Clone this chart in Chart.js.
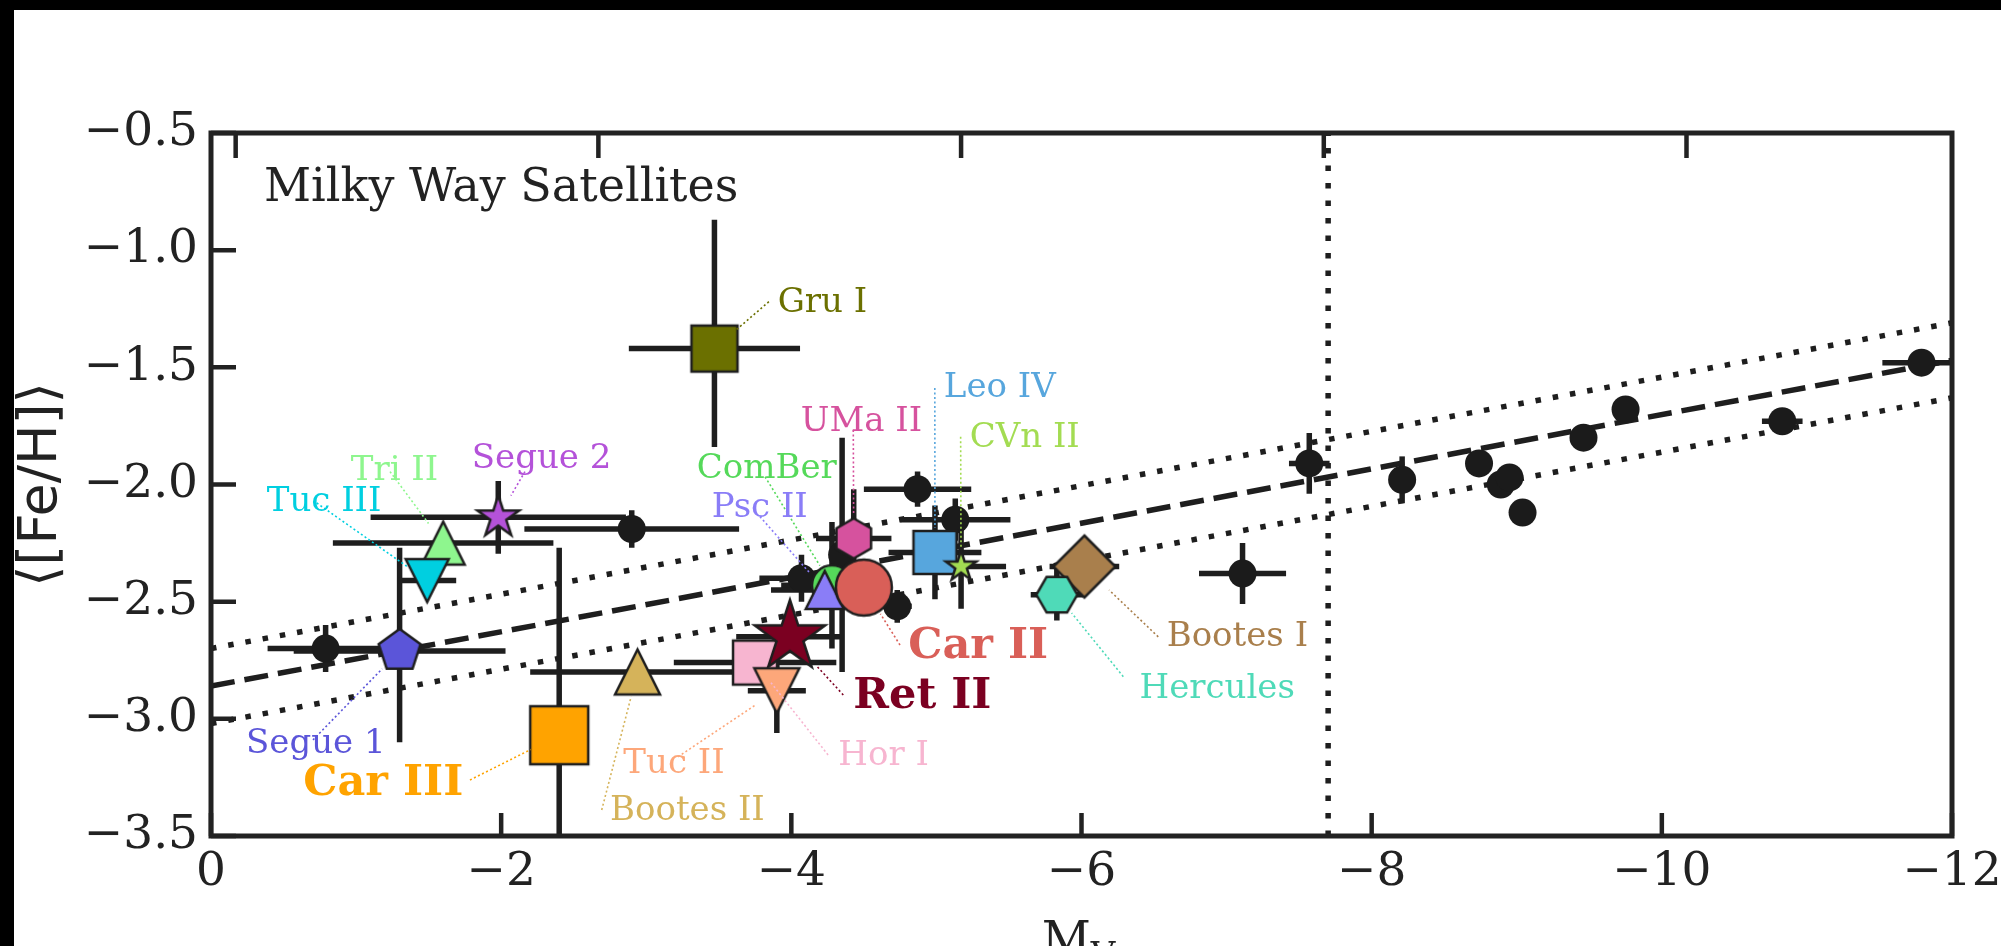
<!DOCTYPE html>
<html>
<head>
<meta charset="utf-8">
<title>Milky Way Satellites</title>
<script src="https://cdn.jsdelivr.net/npm/chart.js@4.4.1/dist/chart.umd.min.js"></script>
<style>
  html, body { margin: 0; padding: 0; background: #000; width: 2001px; height: 946px; overflow: hidden; }
  #wrap { position: absolute; left: 14px; top: 10px; width: 1987px; height: 936px; background: #fff; }
  canvas { display: block; }
</style>
</head>
<body>
<div id="wrap"><canvas id="chart" width="1987" height="936"></canvas></div>
<script>
// ---------------------------------------------------------------- data

// other dwarf galaxies (black points)
var otherMv     = [-0.79, -2.90, -4.07, -4.35, -4.73, -4.87, -5.13, -7.11, -7.57, -8.21, -8.74, -8.89, -8.95, -9.04, -9.46, -9.75, -10.83, -11.79];
var otherFeH    = [-2.70, -2.19, -2.40, -2.30, -2.52, -2.02, -2.15, -2.38, -1.91, -1.98, -1.91, -2.00, -1.97, -2.12, -1.80, -1.68, -1.73, -1.48];
var otherMvErr  = [0.40, 0.74, 0.29, 0.00, 0.10, 0.37, 0.38, 0.30, 0.14, 0.00, 0.00, 0.00, 0.00, 0.00, 0.00, 0.00, 0.14, 0.27];
var otherFeHErr = [0.10, 0.08, 0.10, 0.50, 0.07, 0.075, 0.09, 0.13, 0.13, 0.10, 0.05, 0.00, 0.00, 0.00, 0.00, 0.00, 0.00, 0.00];

// ultra-faint dwarfs with their own markers ([minus, plus] where the error is lopsided)
var ufdNames  = ["Segue 1", "Tri II", "Tuc III", "Segue 2", "Car III", "Bootes II", "Gru I", "Hor I", "Ret II",
                 "Tuc II", "ComBer", "Psc II", "UMa II", "Car II", "Leo IV", "CVn II", "Bootes I", "Hercules"];
var ufdMv     = [-1.30, -1.60, -1.49, -1.98, -2.40, -2.94, -3.47, -3.75, -3.99, -3.90, -4.28, -4.23, -4.43, -4.50, -4.99, -5.17, -6.02, -5.83];
var ufdFeH    = [-2.71, -2.25, -2.41, -2.14, -3.07, -2.80, -1.42, -2.76, -2.65, -2.88, -2.43, -2.45, -2.23, -2.44, -2.29, -2.35, -2.35, -2.47];
var ufdMvErr  = [0.73, 0.76, 0.20, 0.88, 0.20, 0.74, 0.59, 0.56, 0.37, 0.20, 0.35, 0.37, 0.26, 0.10, 0.32, 0.31, 0.24, 0.18];
var ufdFeHErr = [[0.39, 0.44], 0, 0.02, 0.155, 0.80, 0, [0.42, 0.55], 0, 0.07, 0.18, 0.27, 0, 0.21, 0.09, 0.20, 0.18, 0, 0.11];

// mean luminosity-metallicity relation and its scatter, at the two ends of the axis
var fitMv       = [0, -12];
var fitFeH      = [-2.86, -1.47];
var fitUpperFeH = [-2.70, -1.31];
var fitLowerFeH = [-3.02, -1.63];
var dividerMv   = -7.7;

// axis ticks
var xTicks    = [0, -2, -4, -6, -8, -10, -12];
var yTicks    = [-0.5, -1.0, -1.5, -2.0, -2.5, -3.0, -3.5];
var topTickMv = [-0.17, -2.67, -5.17, -7.67, -10.17];   // log L = 2..6

// ---------------------------------------------------------------- styles

var serif = "'DejaVu Serif', serif";
var ink = "#222222";

var ufdColors = ["#5b55d9", "#8ef68e", "#00cfe0", "#b452d9", "#ffa300", "#d5b35a", "#6b7000", "#f7b5d0", "#7b0021",
                 "#fda77a", "#55d95a", "#8a7df7", "#d6529e", "#d95f58", "#57a6dd", "#a3dc52", "#a97f4c", "#4fdab8"];
var ufdShapes = ["pentagon", "triangleUp", "triangleDown", "star", "square", "triangleUp", "square", "square", "star",
                 "triangleDown", "circle", "triangleUp", "hexagon", "circle", "square", "star", "diamond", "hexagonFlat"];
var ufdSizes  = [22, 21.5, 21.5, 22, 29, 22.5, 23, 22, 37, 22.5, 20, 19, 20, 28, 21.5, 16, 31, 20.5];
var boldNames = ["Car III", "Ret II", "Car II"];

// label placement (text baseline-left, and where its leader starts), in data units
var labelMv   = [-0.241, -0.963, -0.384, -1.797, -0.636, -2.750, -3.906, -4.324, -4.427, -2.842, -3.348, -3.451, -4.065, -4.806, -5.051, -5.229, -6.587, -6.400];
var labelFeH  = [-3.147, -1.981, -2.112, -1.931, -3.325, -3.432, -1.263, -3.197, -2.952, -3.232, -1.971, -2.137, -1.770, -2.742, -1.628, -1.839, -2.689, -2.912];
var leaderMv  = [-0.703, -1.234, -0.729, -2.164, -1.785, -2.693, -3.845, -4.253, -4.358, -3.219, -3.819, -3.784, -4.427, -4.749, -4.989, -5.167, -6.529, -6.288];
var leaderFeH = [-3.090, -1.945, -2.079, -1.945, -3.261, -3.389, -1.220, -3.154, -2.898, -3.162, -1.967, -2.137, -1.767, -2.685, -1.588, -1.796, -2.650, -2.820];

// ---------------------------------------------------------------- markers

function polygonPath(g, n, r, rot) {
    for (let i = 0; i < n; i++) {
        let a = rot + i * 2 * Math.PI / n;
        let px = r * Math.sin(a), py = -r * Math.cos(a);
        if (i == 0) g.moveTo(px, py); else g.lineTo(px, py);
    }
    g.closePath();
}

function starPath(g, r) {
    let inner = r * 0.382;
    for (let i = 0; i < 10; i++) {
        let a = i * Math.PI / 5;
        let rr = i % 2 == 0 ? r : inner;
        let px = rr * Math.sin(a), py = -rr * Math.cos(a);
        if (i == 0) g.moveTo(px, py); else g.lineTo(px, py);
    }
    g.closePath();
}

/**
 * Draw a filled, outlined marker on its own small canvas (used as a pointStyle)
 */
function makeMarker(shape, r, fill) {
    let pad = 6;
    let size = Math.ceil(2 * r + 2 * pad);
    let c = document.createElement("canvas");
    c.width = size;
    c.height = size;
    let g = c.getContext("2d");
    g.translate(size / 2, size / 2);
    g.beginPath();
    if (shape == "circle") g.arc(0, 0, r, 0, Math.PI * 2);
    else if (shape == "square") g.rect(-r, -r, 2 * r, 2 * r);
    else if (shape == "diamond") polygonPath(g, 4, r, 0);
    else if (shape == "pentagon") polygonPath(g, 5, r, 0);
    else if (shape == "hexagon") polygonPath(g, 6, r, 0);
    else if (shape == "hexagonFlat") polygonPath(g, 6, r, Math.PI / 6);
    else if (shape == "star") starPath(g, r);
    else if (shape == "triangleUp") { g.moveTo(0, -r); g.lineTo(r, r); g.lineTo(-r, r); g.closePath(); }
    else if (shape == "triangleDown") { g.moveTo(0, r); g.lineTo(r, -r); g.lineTo(-r, -r); g.closePath(); }
    g.fillStyle = fill;
    g.fill();
    g.lineWidth = 2.5;
    g.strokeStyle = "#1e1e1e";
    g.stroke();
    return c;
}

function errPair(e) {
    return Array.isArray(e) ? e : [e, e];
}

// ---------------------------------------------------------------- datasets

var datasets = [];

function bandLine(ys, dash) {
    return {
        data: fitMv.map((m, i) => ({ x: m, y: ys[i] })),
        showLine: true, borderColor: "#1e1e1e", borderWidth: 5.5, borderDash: dash,
        pointRadius: 0, clip: 0, order: 100
    };
}
datasets.push(bandLine(fitFeH, [24, 10]));
datasets.push(bandLine(fitUpperFeH, [5.5, 12]));
datasets.push(bandLine(fitLowerFeH, [5.5, 12]));
datasets.push({
    data: [{ x: dividerMv, y: -3.5 }, { x: dividerMv, y: -0.5 }],
    showLine: true, borderColor: "#1e1e1e", borderWidth: 5.5, borderDash: [5.5, 12],
    pointRadius: 0, clip: 0, order: 100
});

datasets.push({
    data: otherMv.map((m, i) => ({ x: m, y: otherFeH[i] })),
    pointStyle: "circle", pointRadius: 14, pointBackgroundColor: "#1b1b1b", pointBorderWidth: 0,
    order: 90
});

ufdNames.forEach((name, i) => {
    datasets.push({
        label: name,
        data: [{ x: ufdMv[i], y: ufdFeH[i] }],
        pointStyle: makeMarker(ufdShapes[i], ufdSizes[i], ufdColors[i]),
        pointRadius: ufdSizes[i],
        order: 50 - i
    });
});

// ---------------------------------------------------------------- plugins

// error bars, drawn under every marker
var errorBarPlugin = {
    id: "errorBars",
    beforeDatasetsDraw(chart) {
        let ctx = chart.ctx, a = chart.chartArea, x = chart.scales.x, y = chart.scales.y;
        ctx.save();
        ctx.beginPath();
        ctx.rect(a.left, a.top, a.right - a.left, a.bottom - a.top);
        ctx.clip();
        ctx.strokeStyle = "#1e1e1e";
        ctx.lineWidth = 5.5;
        let bar = (m, f, ex, ey) => {
            let [exLo, exHi] = errPair(ex);
            let [eyLo, eyHi] = errPair(ey);
            ctx.beginPath();
            if (exLo || exHi) {
                let py = y.getPixelForValue(f);
                ctx.moveTo(x.getPixelForValue(m + exLo), py);
                ctx.lineTo(x.getPixelForValue(m - exHi), py);
            }
            if (eyLo || eyHi) {
                let px = x.getPixelForValue(m);
                ctx.moveTo(px, y.getPixelForValue(f - eyLo));
                ctx.lineTo(px, y.getPixelForValue(f + eyHi));
            }
            ctx.stroke();
        };
        otherMv.forEach((m, i) => bar(m, otherFeH[i], otherMvErr[i], otherFeHErr[i]));
        ufdMv.forEach((m, i) => bar(m, ufdFeH[i], ufdMvErr[i], ufdFeHErr[i]));
        ctx.restore();
    }
};

// frame, inward ticks, names with leaders, panel title, axis titles
var overlayPlugin = {
    id: "overlay",
    afterDatasetsDraw(chart) {
        let ctx = chart.ctx, a = chart.chartArea, x = chart.scales.x, y = chart.scales.y;
        ctx.save();

        // names and their dotted leaders
        ufdNames.forEach((name, i) => {
            let tx = x.getPixelForValue(labelMv[i]), ty = y.getPixelForValue(labelFeH[i]);
            let sx = x.getPixelForValue(leaderMv[i]), sy = y.getPixelForValue(leaderFeH[i]);
            let mx = x.getPixelForValue(ufdMv[i]), my = y.getPixelForValue(ufdFeH[i]);
            let dx = mx - sx, dy = my - sy, len = Math.hypot(dx, dy);
            let stop = Math.max(0, len - ufdSizes[i] - 3);
            ctx.beginPath();
            ctx.setLineDash([2, 2.5]);
            ctx.lineWidth = 1.6;
            ctx.strokeStyle = ufdColors[i];
            ctx.moveTo(sx, sy);
            ctx.lineTo(sx + dx / len * stop, sy + dy / len * stop);
            ctx.stroke();
            ctx.setLineDash([]);
            let bold = boldNames.includes(name);
            ctx.font = (bold ? "bold 43px " : "34px ") + serif;
            ctx.fillStyle = ufdColors[i];
            ctx.textAlign = "left";
            ctx.textBaseline = "alphabetic";
            ctx.fillText(name, tx, ty);
        });

        // panel title
        ctx.font = "46px " + serif;
        ctx.fillStyle = ink;
        ctx.fillText("Milky Way Satellites", a.left + 53, a.top + 68);

        // frame
        ctx.strokeStyle = ink;
        ctx.lineWidth = 5;
        ctx.strokeRect(a.left, a.top, a.right - a.left, a.bottom - a.top);

        // inward ticks
        ctx.lineWidth = 4.5;
        ctx.beginPath();
        xTicks.forEach(v => { let px = x.getPixelForValue(v); ctx.moveTo(px, a.bottom); ctx.lineTo(px, a.bottom - 23); });
        topTickMv.forEach(v => { let px = x.getPixelForValue(v); ctx.moveTo(px, a.top); ctx.lineTo(px, a.top + 25); });
        yTicks.forEach(v => { let py = y.getPixelForValue(v); ctx.moveTo(a.left, py); ctx.lineTo(a.left + 25, py); });
        ctx.stroke();
        ctx.restore();
    },
    afterDraw(chart) {
        let ctx = chart.ctx, a = chart.chartArea;
        ctx.save();
        ctx.fillStyle = ink;

        // y title
        ctx.translate(28, (a.top + a.bottom) / 2);
        ctx.rotate(-Math.PI / 2);
        ctx.font = "54px 'DejaVu Sans'";
        ctx.textAlign = "center";
        ctx.textBaseline = "middle";
        ctx.fillText("\u27E8[Fe/H]\u27E9", 0, 0);
        ctx.setTransform(1, 0, 0, 1, 0, 0);

        // x title, M with subscript V
        ctx.textAlign = "left";
        ctx.textBaseline = "alphabetic";
        ctx.font = "48px " + serif;
        let mW = ctx.measureText("M").width;
        ctx.font = "34px " + serif;
        let vW = ctx.measureText("V").width;
        let left = (a.left + a.right) / 2 - 3 - (mW + vW) / 2;
        ctx.font = "48px " + serif;
        ctx.fillText("M", left, 946);
        ctx.font = "34px " + serif;
        ctx.fillText("V", left + mW, 956);
        ctx.restore();
    }
};

// ---------------------------------------------------------------- chart

var chart = new Chart(document.getElementById("chart").getContext("2d"), {
    type: "scatter",
    data: { datasets: datasets },
    options: {
        responsive: false,
        animation: false,
        events: [],
        layout: { padding: { top: 123, right: 49, left: 0, bottom: 0 } },
        plugins: { legend: { display: false }, tooltip: { enabled: false } },
        scales: {
            x: {
                type: "linear", position: "bottom", min: -12, max: 0, reverse: true,
                afterFit: s => { s.height = 110; s.paddingLeft = 0; s.paddingRight = 0; },
                grid: { display: false, drawTicks: false }, border: { display: false },
                afterBuildTicks: s => { s.ticks = xTicks.map(v => ({ value: v })); },
                ticks: {
                    padding: 9, color: ink, maxRotation: 0, autoSkip: false,
                    font: { family: serif, size: 47 },
                    callback: v => v == 0 ? "0" : "\u2212" + Math.abs(v)
                }
            },
            y: {
                type: "linear", position: "left", min: -3.5, max: -0.5,
                afterFit: s => { s.width = 197; s.paddingTop = 0; s.paddingBottom = 0; },
                grid: { display: false, drawTicks: false }, border: { display: false },
                afterBuildTicks: s => { s.ticks = yTicks.map(v => ({ value: v })); },
                ticks: {
                    padding: 13, color: ink, autoSkip: false,
                    font: { family: serif, size: 47 },
                    callback: v => "\u2212" + Math.abs(v).toFixed(1)
                }
            }
        }
    },
    plugins: [errorBarPlugin, overlayPlugin]
});
</script>
</body>
</html>
